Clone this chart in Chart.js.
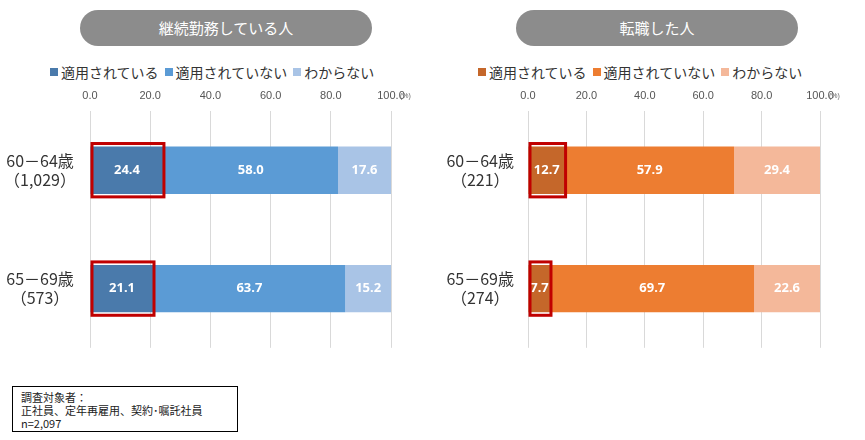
<!DOCTYPE html><html><head><meta charset="utf-8">
<script src="https://cdn.jsdelivr.net/npm/chart.js@4"></script>
<style>
body{margin:0;width:865px;height:440px;background:#fff;font-family:"Noto Sans CJK JP",sans-serif;position:relative;overflow:hidden}
.pill{position:absolute;background:#8c8c8c;color:#fff;border-radius:18px;text-align:center;font-size:15px;line-height:36px;height:36px}
.leg{position:absolute;font-size:14px;color:#333;white-space:nowrap}
.leg span{display:inline-block;width:8px;height:8px;margin:0 3px 2px 6px}
canvas{position:absolute}
.note{position:absolute;left:12px;top:386px;width:226px;height:46px;border:1px solid #000;font-size:11px;line-height:13px;padding:4px 8px;box-sizing:border-box;color:#222}
</style></head><body>
<div class="pill" style="left:80px;top:10px;width:292px">継続勤務している人</div>
<div class="pill" style="left:516px;top:10px;width:282px">転職した人</div>
<div class="leg" style="left:44px;top:62px"><span style="background:#4a7aab"></span>適用されている<span style="background:#5b9bd5"></span>適用されていない<span style="background:#a9c4e6"></span>わからない</div>
<div class="leg" style="left:472px;top:62px"><span style="background:#c5672a"></span>適用されている<span style="background:#ed7d31"></span>適用されていない<span style="background:#f4b89a"></span>わからない</div>
<div style="position:absolute;left:0;top:0"><canvas id="c1" style="left:0;top:85px" width="420" height="288"></canvas></div>
<div style="position:absolute;left:0;top:0"><canvas id="c2" style="left:440px;top:85px" width="410" height="288"></canvas></div>
<div class="note">調査対象者：<br>正社員、定年再雇用、契約･嘱託社員<br>n=2,097</div>
<script>
const catsL=[["60－64歳","（1,029）"],["65－69歳","（573）"]];
const catsR=[["60－64歳","（221）"],["65－69歳","（274）"]];
const seriesNames=["適用されている","適用されていない","わからない"];
const leftApplied=[24.4,21.1], leftNot=[58.0,63.7], leftUnknown=[17.6,15.2];
const rightApplied=[12.7,7.7], rightNot=[57.9,69.7], rightUnknown=[29.4,22.6];
const xTicks=[0,20,40,60,80,100];

const plug={id:'p',afterDatasetsDraw(ch){
  const c=ch.ctx, xs=ch.scales.x, ys=ch.scales.y;
  ch.data.datasets.forEach((ds,i)=>{ch.getDatasetMeta(i).data.forEach((b,j)=>{
    c.save();c.fillStyle='#fff';c.font='bold 13px "Noto Sans",sans-serif';c.textAlign='center';c.textBaseline='middle';
    c.fillText(ds.data[j].toFixed(1),(b.x+b.base)/2,b.y);c.restore();});});
  ch.getDatasetMeta(0).data.forEach(b=>{c.save();c.strokeStyle='#c00000';c.lineWidth=3;
    c.strokeRect(b.base+1.5,b.y-b.height/2-3,b.x-b.base-1,b.height+6);c.restore();});
  c.save();c.font='7px sans-serif';c.fillStyle='#666';c.textBaseline='middle';
  c.fillText('(%)',xs.right+9,ys.top-15);c.restore();
}};
function make(id,cats,d,cols,padR){
  new Chart(document.getElementById(id),{type:'bar',
    data:{labels:cats,datasets:d.map((v,i)=>({label:seriesNames[i],data:v,backgroundColor:cols[i],barPercentage:0.40,categoryPercentage:1}))},
    options:{indexAxis:'y',responsive:false,animation:false,layout:{padding:{right:padR}},
      plugins:{legend:{display:false},tooltip:{enabled:false}},
      scales:{x:{position:'top',stacked:true,min:0,max:100,afterBuildTicks(a){a.ticks=xTicks.map(v=>({value:v}));},
          ticks:{callback:v=>v.toFixed(1),color:'#555',font:{size:11},padding:8},
          grid:{color:'#d9d9d9',drawTicks:false},border:{display:false},afterFit(a){a.height=26;}},
        y:{stacked:true,grid:{display:false},border:{display:false},
          ticks:{color:'#333',font:{size:16,family:'"Noto Sans CJK JP"'},padding:6,crossAlign:'center'},afterFit(a){a.width=id=='c1'?90:88;}}}},
    plugins:[plug]});
}
make('c1',catsL,[leftApplied,leftNot,leftUnknown],['#4a7aab','#5b9bd5','#a9c4e6'],29);
make('c2',catsR,[rightApplied,rightNot,rightUnknown],['#c5672a','#ed7d31','#f4b89a'],30);
</script></body></html>
